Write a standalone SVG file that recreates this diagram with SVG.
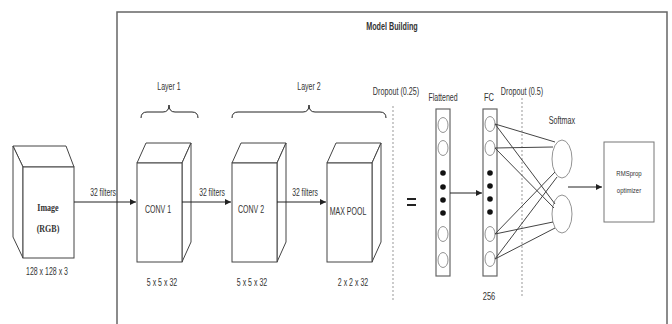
<svg xmlns="http://www.w3.org/2000/svg" width="672" height="324" viewBox="0 0 672 324">
<defs>
<marker id="ah" markerWidth="8" markerHeight="8" refX="6" refY="3" orient="auto" markerUnits="userSpaceOnUse">
<path d="M0,0 L6,3 L0,6 z" fill="#222"/>
</marker>
<style>
.t{font-family:"Liberation Sans",Arial,sans-serif;font-size:10px;fill:#333;text-anchor:middle}
.b{font-weight:bold}
.s{font-family:"Liberation Serif",serif;font-weight:bold;font-size:10px;fill:#333;text-anchor:middle}
.cube{fill:#fff;stroke:#444;stroke-width:1}
.ln{stroke:#222;stroke-width:1;fill:none}
.nn{stroke:#444;stroke-width:1;fill:none}
.dot{stroke:#aaa;stroke-width:1.2;stroke-dasharray:2,2;fill:none}
.col{fill:#fff;stroke:#666;stroke-width:1.2}
.cir{fill:#fff;stroke:#777;stroke-width:0.8}
</style>
</defs>
<rect width="672" height="324" fill="#fff"/>

<g id="frame">
<path d="M117,330 L117,12 L667,12 L667,330" fill="none" stroke="#666" stroke-width="1.5"/>
<text class="t b" transform="translate(392,30) scale(0.72,1)">Model Building</text>
</g>

<g id="image">
<path class="cube" d="M13,146 L66,146 L74,167 L23,167 Z"/>
<path class="cube" d="M13,146 L23,167 L23,258 L13,237 Z"/>
<rect class="cube" x="23" y="167" width="51" height="91"/>
<text class="s" transform="translate(48,211) scale(0.8,1)">Image</text>
<text class="s" transform="translate(48,232) scale(0.8,1)">(RGB)</text>
<text class="t" transform="translate(47,275) scale(0.7,1)">128 x 128 x 3</text>
</g>

<g id="conv1">
<path class="cube" d="M137,163 L146,143 L191,143 L182,163 Z"/>
<path class="cube" d="M182,163 L191,143 L191,242 L182,262 Z"/>
<rect class="cube" x="137" y="163" width="45" height="99"/>
<text class="t" transform="translate(158,213) scale(0.7,1)">CONV 1</text>
<text class="t" transform="translate(162,286) scale(0.7,1)">5 x 5 x 32</text>
</g>

<g id="conv2">
<path class="cube" d="M232,163 L241,143 L286,143 L277,163 Z"/>
<path class="cube" d="M277,163 L286,143 L286,242 L277,262 Z"/>
<rect class="cube" x="232" y="163" width="45" height="99"/>
<text class="t" transform="translate(251,213) scale(0.7,1)">CONV 2</text>
<text class="t" transform="translate(252,286) scale(0.7,1)">5 x 5 x 32</text>
</g>

<g id="maxpool">
<path class="cube" d="M327,163 L336,143 L381,143 L372,163 Z"/>
<path class="cube" d="M372,163 L381,143 L381,242 L372,262 Z"/>
<rect class="cube" x="327" y="163" width="45" height="99"/>
<text class="t" transform="translate(348,215) scale(0.7,1)">MAX POOL</text>
<text class="t" transform="translate(353,286) scale(0.7,1)">2 x 2 x 32</text>
</g>

<g id="layer1">
<path class="ln" d="M141,118 Q141,112 147,112 L163,112 Q169,112 169,105 Q169,112 175,112 L192,112 Q198,112 198,118" stroke="#444"/>
<text class="t" transform="translate(169,90) scale(0.7,1)">Layer 1</text>
</g>

<g id="layer2">
<path class="ln" d="M232,118 Q232,112 238,112 L303,112 Q309,112 309,105 Q309,112 315,112 L380,112 Q386,112 386,118" stroke="#444"/>
<text class="t" transform="translate(309,90) scale(0.7,1)">Layer 2</text>
</g>

<g id="dropout1">
<line class="dot" x1="393" y1="106" x2="393" y2="300"/>
<text class="t" transform="translate(396,95) scale(0.72,1)">Dropout (0.25)</text>
</g>

<g id="equals">
<line x1="407" y1="199" x2="416" y2="199" stroke="#222" stroke-width="2"/>
<line x1="407" y1="205" x2="416" y2="205" stroke="#222" stroke-width="2"/>
</g>

<g id="flattened">
<rect class="col" x="436" y="109" width="14" height="167"/>
<ellipse class="cir" cx="443" cy="125" rx="5" ry="7.5"/>
<ellipse class="cir" cx="443" cy="148" rx="5" ry="7.5"/>
<circle cx="443" cy="173" r="2.8" fill="#111"/>
<circle cx="443" cy="187" r="2.8" fill="#111"/>
<circle cx="443" cy="200" r="2.8" fill="#111"/>
<circle cx="443" cy="213" r="2.8" fill="#111"/>
<ellipse class="cir" cx="443" cy="234" rx="5" ry="7.5"/>
<ellipse class="cir" cx="443" cy="260" rx="5" ry="7.5"/>
<text class="t" transform="translate(443,101) scale(0.7,1)">Flattened</text>
</g>

<g id="fc">
<rect class="col" x="483" y="109" width="14" height="167"/>
<ellipse class="cir" cx="490" cy="124" rx="5" ry="7.5"/>
<ellipse class="cir" cx="490" cy="148" rx="5" ry="7.5"/>
<circle cx="490" cy="173" r="2.8" fill="#111"/>
<circle cx="490" cy="186" r="2.8" fill="#111"/>
<circle cx="490" cy="199" r="2.8" fill="#111"/>
<circle cx="490" cy="212" r="2.8" fill="#111"/>
<ellipse class="cir" cx="490" cy="234" rx="5" ry="7.5"/>
<ellipse class="cir" cx="490" cy="259" rx="5" ry="7.5"/>
<text class="t" transform="translate(489,101) scale(0.75,1)">FC</text>
<text class="t" transform="translate(489,300) scale(0.75,1)">256</text>
</g>

<g id="dropout2">
<line class="dot" x1="522" y1="98" x2="522" y2="296"/>
<text class="t" transform="translate(522,95) scale(0.72,1)">Dropout (0.5)</text>
</g>

<g id="softmax">
<ellipse class="cir" cx="562" cy="159" rx="10" ry="19"/>
<ellipse class="cir" cx="562" cy="214" rx="10" ry="19"/>
<text class="t" transform="translate(562,124) scale(0.72,1)" fill="#555">Softmax</text>
</g>

<g id="rmsprop">
<rect x="604" y="142" width="50" height="80" fill="#fff" stroke="#777" stroke-width="1"/>
<text class="t" transform="translate(629,176) scale(0.75,1)" style="font-size:8px">RMSprop</text>
<text class="t" transform="translate(629,193) scale(0.75,1)" style="font-size:8px">optimizer</text>
</g>

<g id="connectors">
<line class="ln" x1="74" y1="202" x2="136" y2="202" marker-end="url(#ah)"/>
<text class="t" transform="translate(103,196) scale(0.68,1)">32 filters</text>
<line class="ln" x1="182" y1="202" x2="231" y2="202" marker-end="url(#ah)"/>
<text class="t" transform="translate(212,196) scale(0.68,1)">32 filters</text>
<line class="ln" x1="277" y1="202" x2="326" y2="202" marker-end="url(#ah)"/>
<text class="t" transform="translate(305,196) scale(0.68,1)">32 filters</text>
<line class="ln" x1="450" y1="193" x2="482" y2="193" marker-end="url(#ah)"/>
<line class="ln" x1="568" y1="187" x2="602" y2="187" marker-end="url(#ah)"/>
<line class="nn" x1="495" y1="124" x2="555" y2="142"/>
<line class="nn" x1="495" y1="124" x2="555" y2="204"/>
<line class="nn" x1="495" y1="148" x2="553" y2="147"/>
<line class="nn" x1="495" y1="148" x2="554" y2="208"/>
<line class="nn" x1="495" y1="234" x2="555" y2="172"/>
<line class="nn" x1="495" y1="234" x2="553" y2="222"/>
<line class="nn" x1="495" y1="259" x2="557" y2="177"/>
<line class="nn" x1="495" y1="259" x2="555" y2="228"/>
</g>
</svg>
